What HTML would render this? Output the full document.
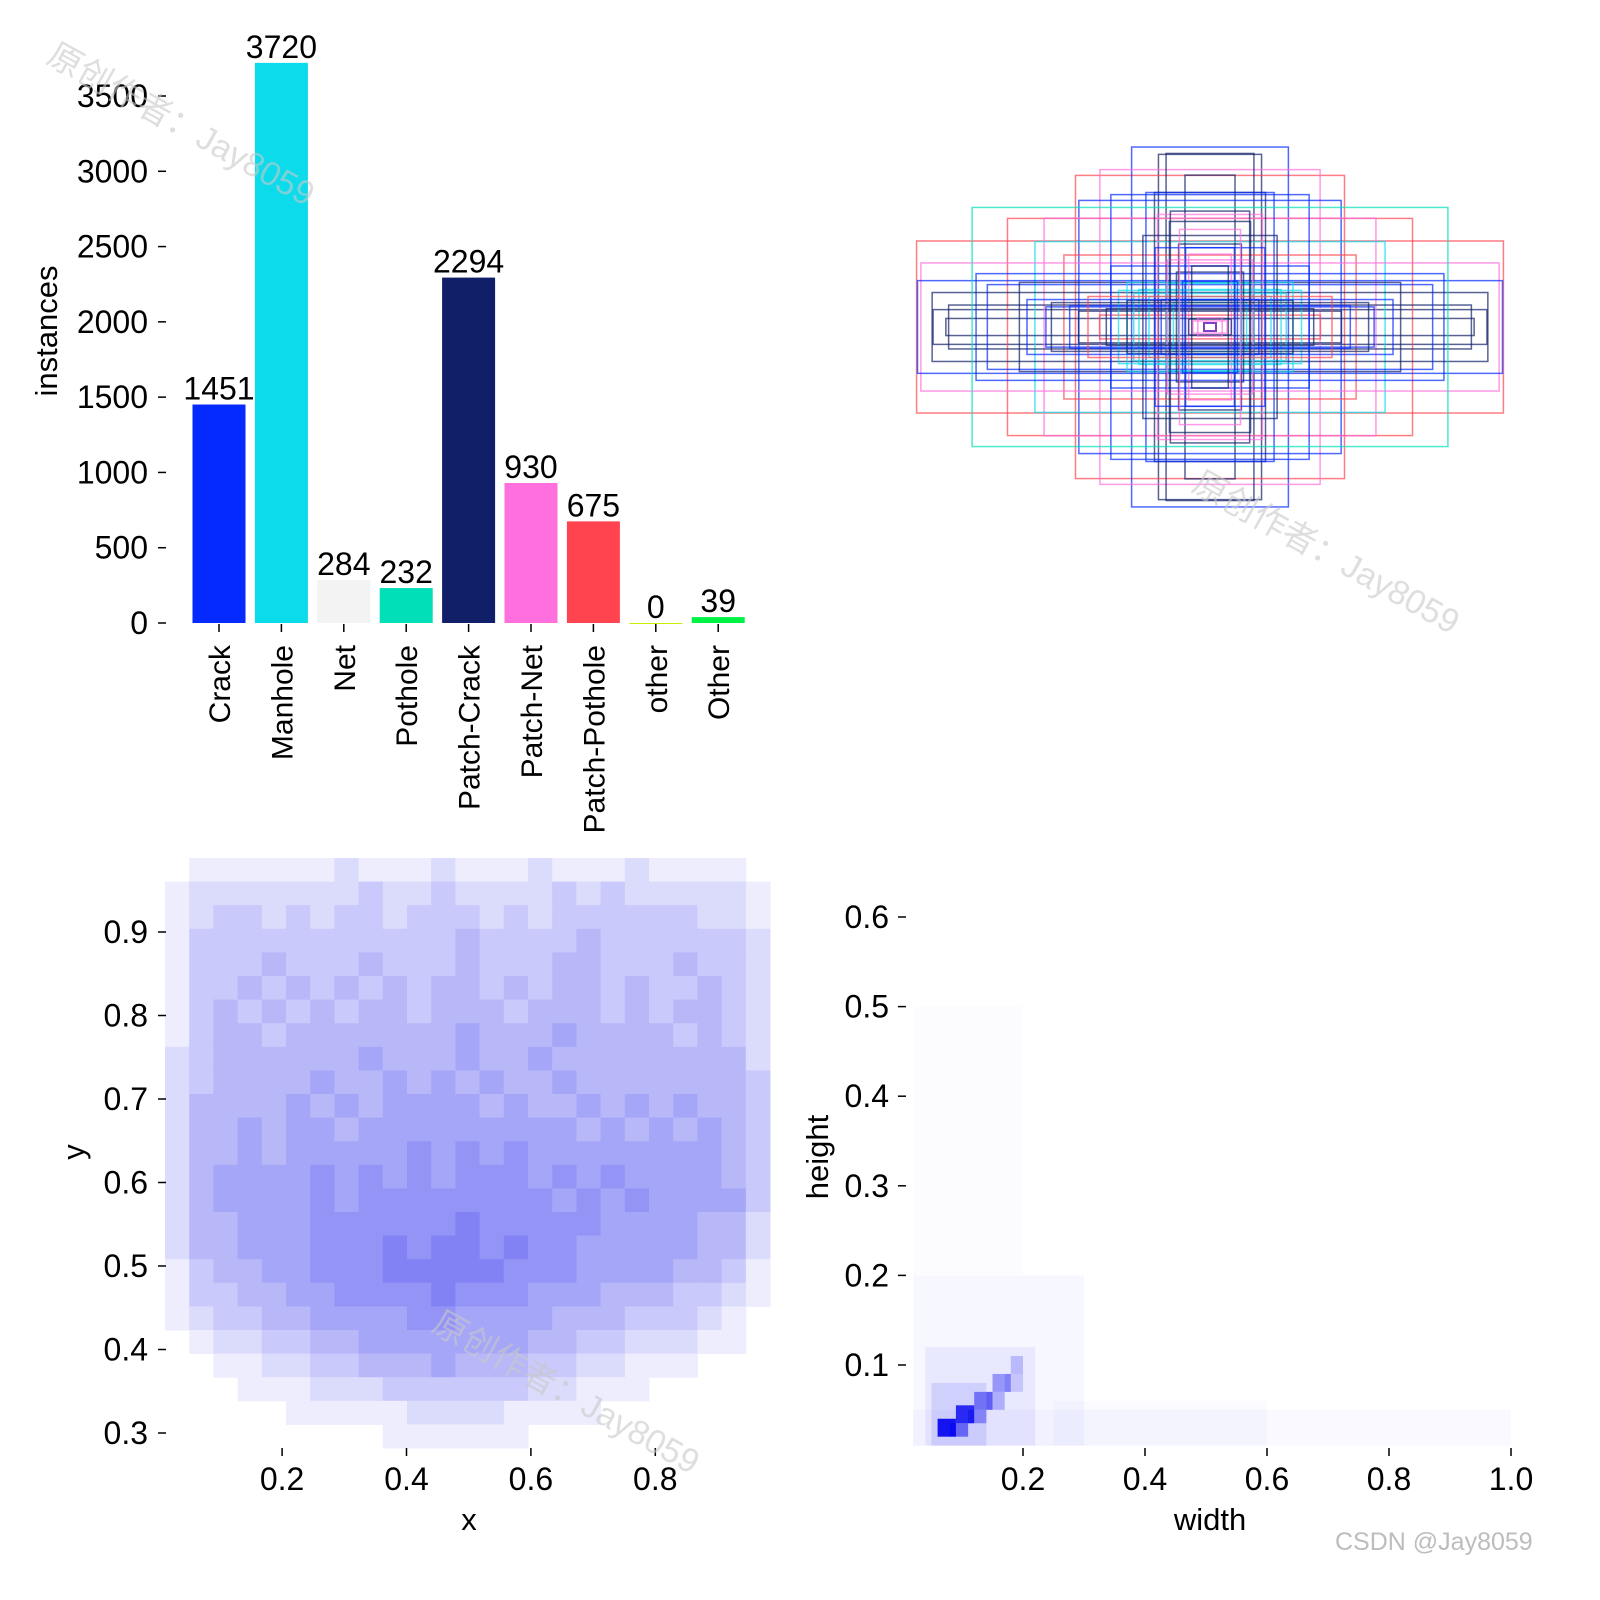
<!DOCTYPE html>
<html><head><meta charset="utf-8"><style>
html,body{margin:0;padding:0;background:#fff}
svg{display:block}
text{font-family:"Liberation Sans","DejaVu Sans",sans-serif;fill:#000}
.wm{font-family:"Liberation Sans","Noto Sans CJK SC",sans-serif;fill:#c8c8c8;fill-opacity:0.6}
</style></head><body>
<svg id="fig" width="1600" height="1600" viewBox="0 0 1600 1600" xmlns="http://www.w3.org/2000/svg">
<g id="bars"></g>
<g id="boxes"></g>
<g id="xy"></g>
<g id="wh"></g>
<g>
<text class="wm" x="45" y="62" font-size="34" transform="rotate(29 45 62)">原创作者：Jay8059</text>
<text class="wm" x="1190" y="490" font-size="34" transform="rotate(29 1190 490)">原创作者：Jay8059</text>
<text class="wm" x="430" y="1330" font-size="34" transform="rotate(29 430 1330)">原创作者：Jay8059</text>
<text x="1335" y="1550" font-size="25" style="fill:#bdbdbd">CSDN @Jay8059</text>
</g>
</svg>
<script>
const NS="http://www.w3.org/2000/svg";
// ---- bar chart data
const classNames=["Crack","Manhole","Net","Pothole","Patch-Crack","Patch-Net","Patch-Pothole","other","Other"];
const classCounts=[1451,3720,284,232,2294,930,675,0,39];
const barYTicks=[0,500,1000,1500,2000,2500,3000,3500];
// ---- box overlay data (width, height fractions; class index)
const boxW=[0.169,0.441,0.962,0.908,0.257,0.361,0.144,0.082,0.430,0.664,0.544,0.574,0.479,0.767,0.948,0.959,0.911,0.857,0.866,0.730,0.625,0.325,0.272,0.233,0.182,0.172,0.133,0.210,0.103,0.070,0.431,0.538,0.362,0.272,0.143,0.103,0.070,0.056,0.325,0.780,
 0.300,0.250,0.200,0.160,0.120,0.220,0.180,0.140,0.110,0.090,0.600,0.520,0.460,0.400,0.340,0.130,0.100,0.080,0.060,0.040];
const boxH=[0.566,0.497,0.282,0.057,0.590,0.516,0.569,0.498,0.415,0.356,0.357,0.280,0.236,0.175,0.210,0.152,0.113,0.072,0.028,0.139,0.146,0.200,0.146,0.123,0.441,0.369,0.346,0.441,0.272,0.239,0.052,0.066,0.039,0.087,0.143,0.090,0.026,0.020,0.434,0.392,
 0.120,0.110,0.100,0.090,0.080,0.300,0.260,0.220,0.180,0.150,0.090,0.080,0.070,0.100,0.060,0.380,0.320,0.260,0.200,0.030];
const boxCls=[4,6,6,4,0,5,4,4,0,6,5,1,6,0,5,0,4,4,4,0,4,0,1,1,4,5,4,0,4,5,4,0,6,4,1,1,4,5,0,3,
 1,1,1,0,1,4,0,5,4,0,0,4,0,6,4,4,5,0,4,5];
const palette=["#042AFF","#0BDBEB","#F3F3F3","#00DFB7","#111F68","#FF6FDD","#FF444F","#CCED00","#00F344"];
// ---- x/y heatmap data (rows top->bottom, intensity 0-9)
const xyRows=[
"0111111211121112111211110","1222222232232222323222221","1233232332333232333333221","1333333333334333343333332",
"1333433343334333443334332","1334343434344343443433432","1343434344344434443434432","1344344444445444544443432",
"2344444454445445444444442","2344445445454544544444443","2444454545555454454545443","2445455455555555545454543",
"2445455555656565555555543","2455556565656665656555543","2455556566666666565655553","2445556666667666665555442",
"2445556667677676655555442","1344556667777766655554431","1334455666676665554443321","1233445555665555444333210",
"0122334455555554433222110","0011223344454443322111000","0001112223333332211100000","0000011111222211110000000",
"0000000001111110000000000"];
const xyXTicks=[0.2,0.4,0.6,0.8];
const xyYTicks=[0.3,0.4,0.5,0.6,0.7,0.8,0.9];
// ---- width/height heatmap cells [w0,w1,h0,h1,intensity]
const whW0=[0.02,0.02,0.04,0.25,0.05,0.06,0.09,0.12,0.15,0.18,0.08,0.11,0.14,0.17,0.02];
const whW1=[1.00,0.30,0.22,0.60,0.14,0.09,0.12,0.15,0.18,0.20,0.11,0.14,0.17,0.20,0.20];
const whH0=[0.01,0.01,0.01,0.01,0.01,0.02,0.035,0.05,0.07,0.09,0.02,0.035,0.05,0.07,0.20];
const whH1=[0.05,0.20,0.12,0.06,0.08,0.04,0.055,0.07,0.09,0.11,0.035,0.05,0.07,0.09,0.50];
const whV=[0.25,0.3,0.6,0.2,1.0,9,8,4.5,3.5,2,5,3.5,2.5,1.5,0.1];
const whXTicks=[0.2,0.4,0.6,0.8,1.0];
const whYTicks=[0.1,0.2,0.3,0.4,0.5,0.6];

function mk(tag,attrs,parent,txt){const e=document.createElementNS(NS,tag);for(const k in attrs)e.setAttribute(k,attrs[k]);if(txt!==undefined)e.textContent=txt;parent.appendChild(e);return e;}

// ===== Bar chart
(function(){
 const g=document.getElementById('bars');
 const yb=v=>623-v*(527/3500);
 const xb=i=>219+i*62.4;
 barYTicks.forEach(t=>{
  const l=mk('line',{x1:158,x2:166,y1:yb(t),y2:yb(t),stroke:'#000','stroke-width':1.5},g);
  
  
  const tx=mk('text',{x:148,y:yb(t)+11,'font-size':32,'text-anchor':'end'},g,String(t));
  
  
 });
 const yt=mk('text',{x:57,y:331,'font-size':31,'text-anchor':'middle',transform:'rotate(-90 57 331)'},g,'instances');
 
 
 classNames.forEach((n,i)=>{
  const c=xb(i),v=classCounts[i];
  const r=mk('rect',{x:c-26.5,y:yb(v),width:53,height:Math.max(623-yb(v),1),fill:palette[i]},g);
  
  
  const vl=mk('text',{x:c,y:yb(v)-5,'font-size':32,'text-anchor':'middle'},g,String(v));
  
  
  const tk=mk('line',{x1:c,x2:c,y1:624,y2:632,stroke:'#000','stroke-width':1.5},g);
  
  
  const lb=mk('text',{x:c+11,y:645,'font-size':30,'text-anchor':'end',transform:`rotate(-90 ${c+11} 645)`},g,n);
  
  
 });
})();

// ===== Box overlay
(function(){
 const g=document.getElementById('boxes');
 const cx=1210,cy=327,S=610;
 boxW.forEach((w,i)=>{
  const h=boxH[i];
  const r=mk('rect',{x:cx-w*S/2,y:cy-h*S/2,width:w*S,height:h*S,fill:'none',stroke:palette[boxCls[i]],'stroke-width':1.5,'stroke-opacity':0.7},g);
  
  
 });
 const c=mk('rect',{x:cx-6,y:cy-4,width:12,height:8,fill:'#fff',stroke:'#8040c0','stroke-width':2},g);
 
 
})();

// ===== XY heatmap
(function(){
 const g=document.getElementById('xy');
 const sx=v=>157.7+v*622, sy=v=>932+(0.9-v)*835;
 const nC=xyRows[0].length,nR=xyRows.length;
 const x0=165,y0=858,cw=(770-165)/nC,ch=(1448-858)/nR;
 xyRows.forEach((row,r)=>{
  for(let c=0;c<nC;c++){
   const v=+row[c]; if(!v) continue;
   const k=Math.min(v*0.07,0.95);
   const col=`rgb(${Math.round(255-k*255)},${Math.round(255-k*255)},${Math.round(255-k*20)})`;
   const e=mk('rect',{x:x0+c*cw,y:y0+r*ch,width:cw+0.5,height:ch+0.5,fill:col},g);
   
   
  }
 });
 xyXTicks.forEach(t=>{
  const l=mk('line',{x1:sx(t),x2:sx(t),y1:1448,y2:1456,stroke:'#000','stroke-width':1.5},g);
  
  
  const tx=mk('text',{x:sx(t),y:1490,'font-size':32,'text-anchor':'middle'},g,t.toFixed(1));
  
  
 });
 xyYTicks.forEach(t=>{
  const l=mk('line',{x1:158,x2:166,y1:sy(t),y2:sy(t),stroke:'#000','stroke-width':1.5},g);
  
  
  const tx=mk('text',{x:148,y:sy(t)+11,'font-size':32,'text-anchor':'end'},g,t.toFixed(1));
  
  
 });
 const xt=mk('text',{x:469,y:1530,'font-size':31,'text-anchor':'middle'},g,'x');
 
 
 const yt=mk('text',{x:84,y:1152,'font-size':31,'text-anchor':'middle',transform:'rotate(-90 84 1152)'},g,'y');
 
 
})();

// ===== Width/height heatmap
(function(){
 const g=document.getElementById('wh');
 const sx=v=>901+v*610, sy=v=>1454.6-v*896;
 whV.forEach((v,i)=>{
  const k=Math.min(v*0.1,0.95);
  const e=mk('rect',{x:sx(whW0[i]),y:sy(whH1[i]),width:sx(whW1[i])-sx(whW0[i]),height:sy(whH0[i])-sy(whH1[i]),fill:'rgb(0,0,240)','fill-opacity':k},g);
  
  
 });
 whXTicks.forEach(t=>{
  const l=mk('line',{x1:sx(t),x2:sx(t),y1:1448,y2:1456,stroke:'#000','stroke-width':1.5},g);
  
  
  const tx=mk('text',{x:sx(t),y:1490,'font-size':32,'text-anchor':'middle'},g,t.toFixed(1));
  
  
 });
 whYTicks.forEach(t=>{
  const l=mk('line',{x1:898,x2:906,y1:sy(t),y2:sy(t),stroke:'#000','stroke-width':1.5},g);
  
  
  const tx=mk('text',{x:889,y:sy(t)+11,'font-size':32,'text-anchor':'end'},g,t.toFixed(1));
  
  
 });
 const xt=mk('text',{x:1210,y:1530,'font-size':31,'text-anchor':'middle'},g,'width');
 
 
 const yt=mk('text',{x:828,y:1157,'font-size':31,'text-anchor':'middle',transform:'rotate(-90 828 1157)'},g,'height');
 
 
})();
</script>
</body></html>
